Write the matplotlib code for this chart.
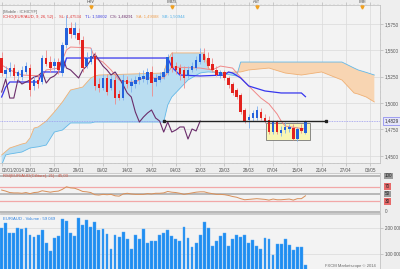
import numpy as np
import matplotlib
matplotlib.use("Agg")
import matplotlib.pyplot as plt
import matplotlib.transforms as mtransforms
from matplotlib.patches import Rectangle
from matplotlib.ticker import FuncFormatter, MultipleLocator

plt.rcParams["font.family"] = ["Liberation Sans", "DejaVu Sans"]

# ===== données EUR/AUD journalier =====
OPEN = [1.5426, 1.5275, 1.5294, 1.5331, 1.5256, 1.5246, 1.5294, 1.5331, 1.5161, 1.5218,
        1.5199, 1.5426, 1.5388, 1.5350, 1.5388, 1.5284, 1.5549, 1.5710, 1.5644, 1.5663,
        1.5597, 1.5350, 1.5388, 1.5445, 1.5180, 1.5142, 1.5237, 1.5142, 1.5218, 1.5085,
        1.5047, 1.5218, 1.5161, 1.5180, 1.5218, 1.5227, 1.5218, 1.5294, 1.5199, 1.5218,
        1.5246, 1.5284, 1.5436, 1.5350, 1.5331, 1.5313, 1.5256, 1.5313, 1.5331, 1.5388,
        1.5464, 1.5426, 1.5369, 1.5313, 1.5256, 1.5294, 1.5237, 1.5180, 1.5123, 1.5076,
        1.4934, 1.4839, 1.4858, 1.4858, 1.4915, 1.4858, 1.4839, 1.4725, 1.4820, 1.4716,
        1.4744, 1.4754, 1.4763, 1.4659, 1.4763, 1.4716]
CLOSE = [1.5284, 1.5313, 1.5331, 1.5256, 1.5294, 1.5313, 1.5350, 1.5123, 1.5218, 1.5180,
         1.5426, 1.5369, 1.5331, 1.5388, 1.5313, 1.5549, 1.5710, 1.5654, 1.5710, 1.5597,
         1.5331, 1.5426, 1.5445, 1.5161, 1.5142, 1.5237, 1.5104, 1.5227, 1.5047, 1.5047,
         1.5218, 1.5180, 1.5199, 1.5218, 1.5246, 1.5256, 1.5294, 1.5189, 1.5237, 1.5256,
         1.5294, 1.5436, 1.5331, 1.5313, 1.5275, 1.5237, 1.5313, 1.5350, 1.5407, 1.5464,
         1.5407, 1.5350, 1.5313, 1.5265, 1.5294, 1.5237, 1.5170, 1.5095, 1.5057, 1.4915,
         1.4820, 1.4867, 1.4905, 1.4934, 1.4858, 1.4829, 1.4725, 1.4820, 1.4725, 1.4744,
         1.4773, 1.4773, 1.4659, 1.4754, 1.4735, 1.4829]
HIGH = [1.5483, 1.5350, 1.5388, 1.5369, 1.5313, 1.5350, 1.5388, 1.5369, 1.5256, 1.5275,
        1.5455, 1.5502, 1.5445, 1.5426, 1.5426, 1.5578, 1.5833, 1.5767, 1.5767, 1.5710,
        1.5635, 1.5483, 1.5521, 1.5483, 1.5237, 1.5275, 1.5275, 1.5256, 1.5256, 1.5123,
        1.5275, 1.5256, 1.5237, 1.5256, 1.5294, 1.5313, 1.5331, 1.5350, 1.5275, 1.5294,
        1.5331, 1.5464, 1.5483, 1.5388, 1.5369, 1.5350, 1.5350, 1.5388, 1.5445, 1.5521,
        1.5521, 1.5483, 1.5426, 1.5350, 1.5313, 1.5313, 1.5256, 1.5199, 1.5142, 1.5095,
        1.4953, 1.4896, 1.4934, 1.4972, 1.4953, 1.4896, 1.4877, 1.4839, 1.4839, 1.4782,
        1.4820, 1.4801, 1.4801, 1.4773, 1.4801, 1.4839]
LOW = [1.5256, 1.5237, 1.5256, 1.5218, 1.5218, 1.5218, 1.5275, 1.5066, 1.5123, 1.5142,
       1.5180, 1.5350, 1.5294, 1.5313, 1.5275, 1.5256, 1.5521, 1.5616, 1.5616, 1.5559,
       1.5294, 1.5331, 1.5369, 1.5123, 1.5104, 1.5123, 1.5076, 1.5123, 1.4991, 1.5028,
       1.5028, 1.5142, 1.5104, 1.5142, 1.5180, 1.5199, 1.5180, 1.5066, 1.5161, 1.5199,
       1.5227, 1.5265, 1.5294, 1.5275, 1.5218, 1.5142, 1.5237, 1.5294, 1.5313, 1.5369,
       1.5388, 1.5331, 1.5294, 1.5256, 1.5237, 1.5218, 1.5142, 1.5076, 1.5038, 1.4896,
       1.4811, 1.4763, 1.4829, 1.4839, 1.4839, 1.4811, 1.4706, 1.4706, 1.4706, 1.4687,
       1.4716, 1.4725, 1.4650, 1.4640, 1.4716, 1.4706]
VOLUME = [200000, 219000, 181000, 181000, 200000, 196000, 200000, 173000, 165000, 173000,
          192000, 142000, 112000, 162000, 169000, 235000, 227000, 181000, 169000, 238000,
          212000, 231000, 204000, 223000, 192000, 196000, 177000, 119000, 173000, 165000,
          185000, 158000, 119000, 173000, 158000, 196000, 142000, 150000, 150000, 173000,
          181000, 192000, 169000, 158000, 150000, 204000, 162000, 127000, 142000, 173000,
          223000, 200000, 131000, 150000, 169000, 181000, 131000, 158000, 173000, 165000,
          173000, 142000, 154000, 131000, 119000, 162000, 158000, 96000, 138000, 138000,
          158000, 135000, 115000, 127000, 127000, 59049]
RSI = [61, 58, 54, 53, 53, 52, 54, 51, 54, 55,
       59, 57, 55, 57, 58, 63, 70, 67, 66, 62,
       57, 56, 54, 48, 47, 49, 48, 49, 45, 44,
       50, 52, 50, 49, 49, 49, 51, 50, 52, 52,
       53, 57, 55, 54, 52, 49, 51, 53, 55, 56,
       56, 53, 51, 49, 49, 48, 46, 43, 41, 37,
       34, 35, 36, 37, 36, 35, 33, 36, 34, 34,
       35, 36, 33, 37, 37, 45]

# Ichimoku (9, 26, 52)
TENKAN_IDX = [0, 2, 5, 10, 11, 14, 15, 16, 17, 22, 23, 25, 27, 29, 31, 33, 35, 40, 42,
              49, 52, 54, 57, 60, 62, 64, 66, 68, 69, 70, 75]
TENKAN = [1.5360, 1.5313, 1.5265, 1.5256, 1.5313, 1.5331, 1.5407, 1.5502, 1.5530, 1.5521,
          1.5426, 1.5388, 1.5313, 1.5218, 1.5199, 1.5199, 1.5237, 1.5237, 1.5341, 1.5331,
          1.5313, 1.5350, 1.5331, 1.5199, 1.5123, 1.5047, 1.4991, 1.4896, 1.4829, 1.4782,
          1.4753]
KIJUN_IDX = [0, 1, 2, 9, 10, 15, 16, 41, 42, 44, 49, 55, 56, 57, 59, 61, 65, 69, 74, 75]
KIJUN = [1.5057, 1.5151, 1.5199, 1.5199, 1.5294, 1.5294, 1.5426, 1.5426, 1.5341, 1.5265,
         1.5256, 1.5265, 1.5294, 1.5284, 1.5237, 1.5161, 1.5114, 1.5095, 1.5095, 1.5060]
CLOUD_IDX = [0, 1, 2, 5, 6, 7, 8, 9, 11, 13, 15, 17, 20, 22, 23, 24, 40, 41, 42, 46,
             49, 50, 51, 53, 58, 59, 61, 66, 70, 74, 79, 84, 87, 88, 90, 92]
SENKOU_A = [1.4508, 1.4541, 1.4574, 1.4612, 1.4621, 1.4669, 1.4763, 1.4773, 1.4829, 1.4915,
            1.5010, 1.5123, 1.5151, 1.5237, 1.5256, 1.5265, 1.5284, 1.5407, 1.5474, 1.5474,
            1.5474, 1.5474, 1.5331, 1.5284, 1.5294, 1.5294, 1.5313, 1.5331, 1.5284, 1.5265,
            1.5294, 1.5218, 1.5095, 1.5085, 1.5057, 1.5010]
SENKOU_B = [1.4413, 1.4508, 1.4517, 1.4536, 1.4555, 1.4574, 1.4580, 1.4585, 1.4602, 1.4725,
            1.4744, 1.4811, 1.4811, 1.4811, 1.4820, 1.4820, 1.4820, 1.4981, 1.5057, 1.5218,
            1.5284, 1.5290, 1.5294, 1.5290, 1.5256, 1.5388, 1.5388, 1.5388, 1.5388, 1.5388,
            1.5388, 1.5388, 1.5331, 1.5313, 1.5290, 1.5265]
CHIKOU_SHIFT = 26

DATE_TICKS = [0, 7, 13, 19, 25, 31, 37, 43, 49, 55, 61, 67, 73, 79, 85, 91]
DATE_LABELS = ["02/01/2014", "13/01", "21/01", "29/01", "06/02", "14/02", "24/02", "04/03",
               "12/03", "20/03", "28/03", "07/04", "15/04", "21/04", "27/04", "03/05"]
MONTH_TICKS = [22, 42, 63, 89]
MONTH_LABELS = ["Fev", "Mars", "Avr", "Mai"]
PRICE_TICKS = [1.45, 1.475, 1.5, 1.525, 1.55, 1.575]
VOLUME_TICKS = [100000, 200000]
RSI_LEVELS = [100, 70, 50, 30, 0]

LAST_PRICE = 1.4829
SUPPORT = (40, 80, 1.4825)
RANGE_BOX = (65.3, 76.1, 1.4650, 1.4815)

HEADER = [("ICHO(EUR/AUD, 9, 26, 52) -", "#e03030"), ("SL: 1,47534", "#e04040"),
          ("TL: 1,50602", "#3a3ae0"), ("CS: 1,48291", "#6b2d6b"),
          ("SA: 1,49088", "#f0a050"), ("SB: 1,50944", "#50b0e8")]

# ===== style =====
W, H = 400, 269
BG = "#eeeeee"
PANEL = "#f3f3f3"
GRID = "#dadada"
TXT = "#555555"
FS = 3.3
XLIM = (-0.41, 93.4)


def fig_rect(x0, y0, x1, y1):
    return [x0 / W, 1 - y1 / H, (x1 - x0) / W, (y1 - y0) / H]


def px(x, y):
    return x / W, 1 - y / H


def style_axes(ax):
    ax.set_facecolor(PANEL)
    ax.set_xlim(*XLIM)
    for s in ax.spines.values():
        s.set_color("#bbbbbb")
        s.set_linewidth(0.5)
    ax.spines["left"].set_visible(False)


def draw_main(ax):
    idx = np.arange(len(CLOSE))
    o, c, h, l = (np.array(a) for a in (OPEN, CLOSE, HIGH, LOW))
    up = c >= o

    # nuage
    ci = np.array(CLOUD_IDX)
    sa = np.array(SENKOU_A)
    sb = np.array(SENKOU_B)
    ax.fill_between(ci, sa, sb, where=sa >= sb, interpolate=True, color="#b9ddf1", lw=0, zorder=1)
    ax.fill_between(ci, sa, sb, where=sa < sb, interpolate=True, color="#f8d5b2", lw=0, zorder=1)
    ax.plot(ci, sa, color="#f0b074", lw=0.6, zorder=2)
    ax.plot(ci, sb, color="#62b8e8", lw=0.6, zorder=2)

    # zone de range + lignes
    x0, x1, y0, y1 = RANGE_BOX
    ax.add_patch(Rectangle((x0, y0), x1 - x0, y1 - y0, fc="#f8f6b4", ec="#777777", lw=0.6, zorder=2))
    ax.axhline(LAST_PRICE, color="#9a9af0", lw=0.6, ls=(0, (1, 1)), zorder=2)

    ax.plot(TENKAN_IDX, TENKAN, color="#f08888", lw=0.7, zorder=3)
    ax.plot(KIJUN_IDX, KIJUN, color="#3636ee", lw=0.9, zorder=3)
    ax.plot(idx[CHIKOU_SHIFT:] - CHIKOU_SHIFT, c[CHIKOU_SHIFT:], color="#6b2d6b", lw=0.8, zorder=3)

    # bougies
    ax.vlines(idx[up], l[up], h[up], color="#7fb0ee", lw=0.6, zorder=4)
    ax.vlines(idx[~up], l[~up], h[~up], color="#ee8a8a", lw=0.6, zorder=4)
    body = np.maximum(np.abs(c - o), 0.0003)
    ax.bar(idx, body, bottom=np.minimum(o, c), width=0.62,
           color=np.where(up, "#2462dc", "#e3221e"), lw=0, zorder=5)

    xs, xe, yv = SUPPORT
    ax.plot([xs, xe], [yv, yv], color="#222222", lw=1.0, marker="s", ms=2.0, zorder=6)

    ax.set_ylim(1.4432, 1.5928)
    ax.yaxis.tick_right()
    ax.set_yticks(PRICE_TICKS)
    ax.yaxis.set_major_formatter(FuncFormatter(lambda v, p: f"{v:.4f}".replace(".", ",")))
    ax.yaxis.set_minor_locator(MultipleLocator(0.005))
    ax.set_xticks(DATE_TICKS)
    ax.set_xticklabels(DATE_LABELS)
    ax.get_xticklabels()[0].set_ha("left")
    ax.xaxis.set_minor_locator(MultipleLocator(1))
    ax.tick_params(axis="both", which="major", labelsize=FS, labelcolor=TXT, length=2,
                   width=0.4, color="#aaaaaa", pad=1.5, top=True)
    ax.tick_params(axis="both", which="minor", length=1, width=0.3, color="#bbbbbb", top=True)
    ax.grid(True, which="major", color=GRID, lw=0.5)
    ax.set_axisbelow(True)

    # mois en haut
    tr = mtransforms.blended_transform_factory(ax.transData, ax.transAxes)
    ax.plot(MONTH_TICKS, [0.985] * len(MONTH_TICKS), "v", color="#f0a020", ms=2.2,
            transform=tr, clip_on=False, zorder=7)
    for m, lab in zip(MONTH_TICKS, MONTH_LABELS):
        ax.text(m, 1.005, lab, transform=tr, ha="center", va="bottom", fontsize=FS, color=TXT)

    # étiquette du dernier prix
    tr2 = mtransforms.blended_transform_factory(ax.transAxes, ax.transData)
    ax.text(1.012, LAST_PRICE, "1,4829", transform=tr2, ha="left", va="center", fontsize=FS,
            color="#333333", bbox=dict(boxstyle="square,pad=0.25", fc="#e6e6fa", ec="#8080f0", lw=0.5))


def draw_rsi(ax):
    idx = np.arange(len(RSI))
    for lv in RSI_LEVELS:
        if lv in (70, 30):
            ax.axhline(lv, color="#f2a8a8", lw=0.9, zorder=1)
        else:
            ax.axhline(lv, color="#a8a8a8", lw=1.1, zorder=1)
    ax.plot(idx, RSI, color="#d8905a", lw=0.7, zorder=2)
    ax.set_ylim(-2.8, 108.3)
    ax.set_xticks([])
    ax.set_yticks([])
    tr = mtransforms.blended_transform_factory(ax.transAxes, ax.transData)
    for lv in RSI_LEVELS:
        fc = "#e86a6a" if lv in (70, 30) else "#9a9a9a"
        if lv == 0:
            ax.text(1.012, lv, "0", transform=tr, ha="left", va="center", fontsize=FS, color=TXT)
        else:
            ax.text(1.012, lv, str(lv), transform=tr, ha="left", va="center", fontsize=FS,
                    color="#222222", bbox=dict(boxstyle="square,pad=0.2", fc=fc, ec="none"))


def draw_volume(ax):
    idx = np.arange(len(VOLUME))
    ax.bar(idx, VOLUME, width=0.7, color="#1f8ef1", edgecolor="#5aaaf5", lw=0.3, zorder=2)
    ax.set_ylim(42300, 253850)
    ax.set_xticks([])
    ax.yaxis.tick_right()
    ax.set_yticks(VOLUME_TICKS)
    ax.yaxis.set_major_formatter(FuncFormatter(lambda v, p: f"{int(v):,}".replace(",", " ")))
    ax.tick_params(axis="y", labelsize=FS, labelcolor=TXT, length=2, width=0.4,
                   color="#aaaaaa", pad=1.5)
    ax.grid(True, axis="y", color=GRID, lw=0.5)
    ax.set_axisbelow(True)


def draw_header(fig):
    fig.text(*px(3, 12), "[Mobile : ICHICYF]", fontsize=3.0, color="#666666", va="center")
    renderer = fig.canvas.get_renderer()
    x = 3.0
    for s, col in HEADER:
        t = fig.text(*px(x, 17), s, fontsize=3.0, color=col, va="center")
        x += t.get_window_extent(renderer).width + 3.5


def main_process():
    fig = plt.figure(figsize=(W / 100, H / 100), dpi=100, facecolor=BG)
    ax = fig.add_axes(fig_rect(0, 5, 380, 163))
    ax_rsi = fig.add_axes(fig_rect(0, 173, 380, 213))
    ax_vol = fig.add_axes(fig_rect(0, 214, 380, 269))
    for a in (ax, ax_rsi, ax_vol):
        style_axes(a)

    draw_main(ax)
    draw_rsi(ax_rsi)
    draw_volume(ax_vol)
    draw_header(fig)

    fig.text(*px(3, 176), "RSI(EUR/AUD(Clôture), 21) : 45,03", fontsize=3.0, color="#d05040", va="center")
    fig.text(*px(3, 219), "EUR/AUD - Volume : 59 049", fontsize=3.0, color="#2a80e0", va="center")
    fig.text(*px(376, 266), "FXCM Marketscope © 2014", fontsize=3.0, color="#666666",
             ha="right", va="center")

    fig.savefig("out.png", dpi=100, facecolor=BG)
    plt.close(fig)


if __name__ == "__main__":
    main_process()
